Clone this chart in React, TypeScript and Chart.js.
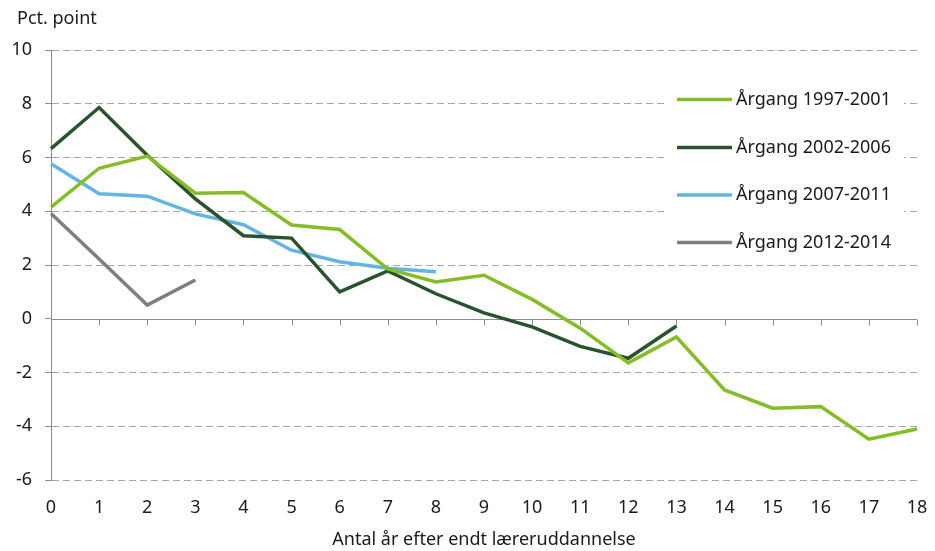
import React, { useEffect, useRef } from "react";
import { Chart, registerables } from "chart.js";

Chart.register(...registerables);

const categories = ["0","1","2","3","4","5","6","7","8","9","10","11","12","13","14","15","16","17","18"];
const labels1997 = "Årgang 1997-2001";
const labels2002 = "Årgang 2002-2006";
const labels2007 = "Årgang 2007-2011";
const labels2012 = "Årgang 2012-2014";
const values1997 = [4.15, 5.6, 6.05, 4.67, 4.7, 3.49, 3.32, 1.85, 1.37, 1.62, 0.72, -0.35, -1.64, -0.68, -2.65, -3.33, -3.27, -4.48, -4.1];
const values2002 = [6.33, 7.86, 6.08, 4.46, 3.09, 3.0, 1.0, 1.78, 0.93, 0.22, -0.3, -1.03, -1.47, -0.27];
const values2007 = [5.77, 4.65, 4.56, 3.9, 3.5, 2.55, 2.12, 1.88, 1.75];
const values2012 = [3.92, 2.22, 0.51, 1.44];
const yMin = -6;
const yMax = 10;
const yStep = 2;
const yTitle = "Pct. point";
const xTitle = "Antal år efter endt læreruddannelse";

const FONT = "'Noto Sans', sans-serif";
const FS = 18;
const TEXT = "#1a1a1a";
const AXIS = "#8c8c8c";
const GRID = "#a6a6a6";

const overlayPlugin = {
  id: "overlay",
  beforeDatasetsDraw(chart: any) {
    const { ctx, scales } = chart;
    const x = scales.x;
    const y = scales.y;
    const y0 = y.getPixelForValue(0);
    ctx.save();
    ctx.strokeStyle = AXIS;
    ctx.lineWidth = 1;
    ctx.setLineDash([]);
    ctx.beginPath();
    ctx.moveTo(x.left, Math.round(y0) + 0.5);
    ctx.lineTo(x.right, Math.round(y0) + 0.5);
    for (let i = 0; i < categories.length; i++) {
      const px = Math.round(x.getPixelForValue(i)) + 0.5;
      ctx.moveTo(px, Math.round(y0) + 0.5);
      ctx.lineTo(px, Math.round(y0) + 6.5);
    }
    ctx.stroke();
    ctx.restore();
  },
  afterDraw(chart: any) {
    const { ctx } = chart;
    ctx.save();
    ctx.font = `${FS}px ${FONT}`;
    ctx.fillStyle = TEXT;
    ctx.textAlign = "left";
    ctx.textBaseline = "middle";
    ctx.fillText(yTitle, 17, 19);

    // legend
    ctx.fillStyle = "#ffffff";
    ctx.fillRect(664, 76, 240, 182);
    const rowY = [99.5, 147.5, 195, 242.5];
    chart.data.datasets.forEach((ds: any, i: number) => {
      const yy = rowY[i];
      ctx.strokeStyle = ds.borderColor;
      ctx.lineWidth = 3.5;
      ctx.beginPath();
      ctx.moveTo(677, yy);
      ctx.lineTo(732, yy);
      ctx.stroke();
      ctx.fillStyle = TEXT;
      ctx.font = `${FS}px ${FONT}`;
      ctx.textBaseline = "middle";
      ctx.fillText(ds.label, 736, yy);
    });
    ctx.restore();
  },
};

export default function App() {
  const ref = useRef<HTMLCanvasElement>(null);
  useEffect(() => {
    if (!ref.current) return;
    const mk = (label: string, data: number[], color: string) => ({
      label,
      data,
      borderColor: color,
      backgroundColor: color,
      borderWidth: 3.5,
      pointRadius: 0,
      pointHoverRadius: 0,
      tension: 0,
      fill: false,
    });
    const chart = new Chart(ref.current, {
      type: "line",
      data: {
        labels: categories,
        datasets: [
          mk(labels1997, values1997, "#84bd26"),
          mk(labels2002, values2002, "#29532f"),
          mk(labels2007, values2007, "#62b4e4"),
          mk(labels2012, values2012, "#7f7f81"),
        ],
      },
      options: {
        responsive: false,
        animation: false,
        events: [],
        layout: { padding: { top: 50, right: 18, left: 0, bottom: 0 } },
        plugins: {
          legend: { display: false },
          tooltip: { enabled: false },
          title: { display: false },
        },
        scales: {
          x: {
            type: "category",
            offset: false,
            grid: { display: false, drawTicks: false },
            border: { display: false },
            ticks: {
              padding: 17,
              color: TEXT,
              font: { family: FONT, size: FS },
              maxRotation: 0,
              autoSkip: false,
            },
            title: {
              display: true,
              text: xTitle,
              color: TEXT,
              font: { family: FONT, size: FS },
              padding: { top: 0, bottom: 0 },
            },
            afterFit: (s: any) => {
              s.height = 71;
              s.paddingLeft = 0;
              s.paddingRight = 0;
            },
          },
          y: {
            min: yMin,
            max: yMax,
            ticks: {
              stepSize: yStep,
              padding: 13,
              color: TEXT,
              font: { family: FONT, size: FS },
            },
            grid: {
              color: (c: any) => (c.tick && c.tick.value === 0 ? "rgba(0,0,0,0)" : GRID),
              lineWidth: 1,
              drawTicks: true,
              tickLength: 6,
              tickColor: AXIS,
              tickBorderDash: [],
            },
            border: { display: true, color: AXIS, width: 1, dash: [7, 4] },
            afterFit: (s: any) => {
              s.width = 51;
              s.paddingTop = 0;
              s.paddingBottom = 0;
            },
          },
        },
      },
      plugins: [overlayPlugin],
    });
    return () => chart.destroy();
  }, []);
  return (
    <div style={{ position: "fixed", left: 0, top: 0, width: 935, height: 551, background: "#fff" }}>
      <canvas ref={ref} width={935} height={551} style={{ width: 935, height: 551 }} />
    </div>
  );
}
